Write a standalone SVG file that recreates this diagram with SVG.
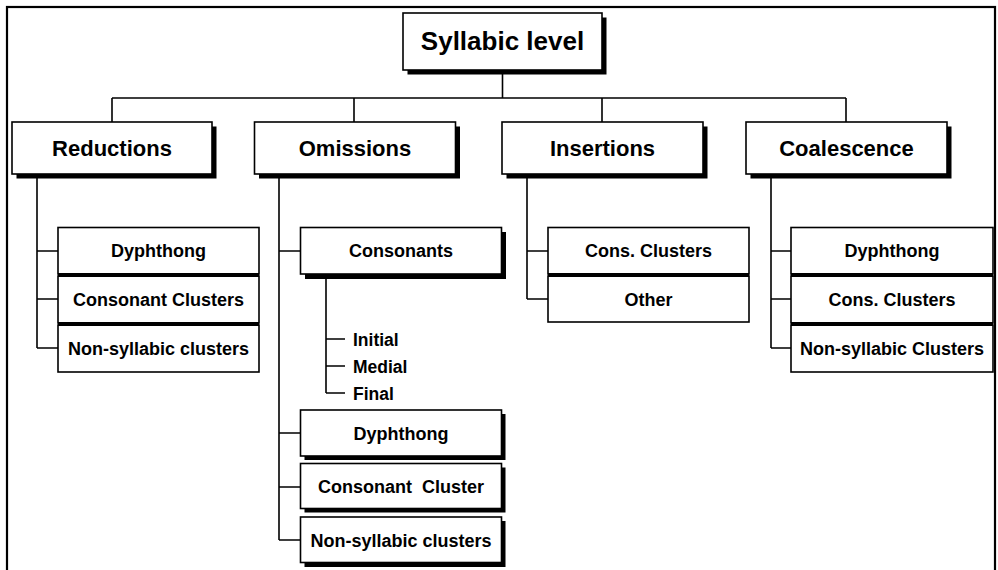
<svg xmlns="http://www.w3.org/2000/svg" width="998" height="570" viewBox="0 0 998 570">
<style>
.box{fill:#fff;stroke:#000;stroke-width:1.6}
.sh{fill:#000}
.ln{fill:none;stroke:#000;stroke-width:1.6}
.sep{stroke:#000;stroke-width:4}
text{font-family:"Liberation Sans",Arial,sans-serif;font-weight:bold;fill:#000;text-anchor:middle}
.t1{font-size:26px}
.t2{font-size:22px}
.t3{font-size:18px}
.t4{font-size:17.5px;text-anchor:start}
</style>
<rect x="0" y="0" width="998" height="570" fill="#fff"/>
<rect x="7" y="7" width="988" height="620" fill="none" stroke="#000" stroke-width="2.2"/>

<g id="connectors" class="ln">
  <path d="M502.5 70V98M112 98H846M112 98V122M354 98V122M602 98V122M846 98V122"/>
  <path d="M37 174V348M37 251H58M37 299H58M37 348H58"/>
  <path d="M279 174V540M279 251H300M279 433H300M279 487H300M279 540H300"/>
  <path d="M326 274V393M326 339H345M326 366H345M326 393H345"/>
  <path d="M527 174V299M527 251H548M527 299H548"/>
  <path d="M771 174V348M771 251H791M771 299H791M771 348H791"/>
</g>

<g id="root">
  <rect class="sh" x="407.5" y="17.5" width="199" height="57"/>
  <rect class="box" x="403" y="13" width="199" height="57"/>
  <text class="t1" x="502.5" y="50">Syllabic level</text>
</g>

<g id="reductions">
  <rect class="sh" x="16.5" y="126.5" width="200" height="52"/>
  <rect class="box" x="12" y="122" width="200" height="52"/>
  <text class="t2" x="112" y="156">Reductions</text>
</g>
<g id="omissions">
  <rect class="sh" x="259" y="126.5" width="201" height="52"/>
  <rect class="box" x="254.5" y="122" width="201" height="52"/>
  <text class="t2" x="355" y="156">Omissions</text>
</g>
<g id="insertions">
  <rect class="sh" x="506.5" y="126.5" width="201" height="52"/>
  <rect class="box" x="502" y="122" width="201" height="52"/>
  <text class="t2" x="602.5" y="156">Insertions</text>
</g>
<g id="coalescence">
  <rect class="sh" x="750.5" y="126.5" width="201" height="52"/>
  <rect class="box" x="746" y="122" width="201" height="52"/>
  <text class="t2" x="846.5" y="156">Coalescence</text>
</g>

<g id="red-dyphthong">
  <rect class="box" x="58" y="227.5" width="201" height="46.5"/>
  <text class="t3" x="158.5" y="257">Dyphthong</text>
</g>
<g id="red-consonant-clusters">
  <rect class="box" x="58" y="276" width="201" height="47"/>
  <text class="t3" x="158.5" y="306">Consonant Clusters</text>
</g>
<g id="red-non-syllabic">
  <rect class="box" x="58" y="325" width="201" height="47"/>
  <text class="t3" x="158.5" y="355">Non-syllabic clusters</text>
</g>
<path class="sep" d="M58 275H259M58 324H259"/>

<g id="om-consonants">
  <rect class="sh" x="305" y="232" width="201" height="47"/>
  <rect class="box" x="300.5" y="227.5" width="201" height="46.5"/>
  <text class="t3" x="401" y="257">Consonants</text>
</g>
<g id="om-initial"><text class="t4" x="353" y="346">Initial</text></g>
<g id="om-medial"><text class="t4" x="353" y="373">Medial</text></g>
<g id="om-final"><text class="t4" x="353" y="400">Final</text></g>

<g id="om-dyphthong">
  <rect class="sh" x="304.5" y="414" width="201" height="46"/>
  <rect class="box" x="300.5" y="410" width="201" height="46"/>
  <text class="t3" x="401" y="440">Dyphthong</text>
</g>
<g id="om-consonant-cluster">
  <rect class="sh" x="304.5" y="467.5" width="201" height="45"/>
  <rect class="box" x="300.5" y="463.5" width="201" height="45"/>
  <text class="t3" x="401" y="493" xml:space="preserve">Consonant  Cluster</text>
</g>
<g id="om-non-syllabic">
  <rect class="sh" x="304.5" y="521" width="201" height="46"/>
  <rect class="box" x="300.5" y="517" width="201" height="45.5"/>
  <text class="t3" x="401" y="547">Non-syllabic clusters</text>
</g>

<g id="ins-cons-clusters">
  <rect class="box" x="548" y="227.5" width="201" height="46.5"/>
  <text class="t3" x="648.5" y="257">Cons. Clusters</text>
</g>
<g id="ins-other">
  <rect class="box" x="548" y="276" width="201" height="46"/>
  <text class="t3" x="648.5" y="306">Other</text>
</g>
<path class="sep" d="M548 275H749"/>

<g id="coa-dyphthong">
  <rect class="box" x="791" y="227.5" width="202" height="46.5"/>
  <text class="t3" x="892" y="257">Dyphthong</text>
</g>
<g id="coa-cons-clusters">
  <rect class="box" x="791" y="276" width="202" height="47"/>
  <text class="t3" x="892" y="306">Cons. Clusters</text>
</g>
<g id="coa-non-syllabic">
  <rect class="box" x="791" y="325" width="202" height="47"/>
  <text class="t3" x="892" y="355">Non-syllabic Clusters</text>
</g>
<path class="sep" d="M791 275H993M791 324H993"/>
</svg>
